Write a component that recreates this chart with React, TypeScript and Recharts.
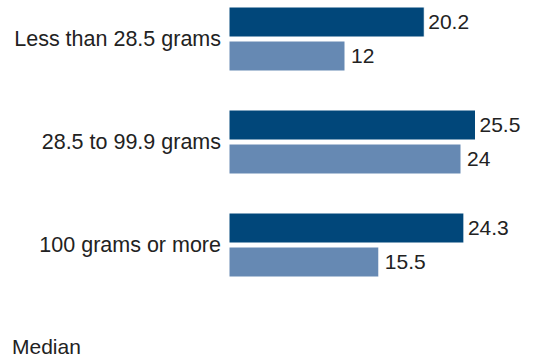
import { BarChart, Bar, XAxis, YAxis, LabelList } from 'recharts';

const CATEGORIES = ['Less than 28.5 grams', '28.5 to 99.9 grams', '100 grams or more'];
const SERIES_A = [20.2, 25.5, 24.3];
const SERIES_B = [12, 24, 15.5];

const DARK = '#01477a';
const LIGHT = '#6689b3';
const FONT = '"Liberation Sans", Arial, sans-serif';

const data = CATEGORIES.map((name, i) => ({ name, a: SERIES_A[i], b: SERIES_B[i] }));

export default function App() {
  return (
    <div style={{ position: 'absolute', left: 0, top: 0, width: 543, height: 360, background: '#fff', fontFamily: FONT }}>
      <BarChart
        width={543}
        height={360}
        data={data}
        layout="vertical"
        margin={{ top: -13, right: 24, bottom: 64, left: 0 }}
        barSize={30}
        barGap={4}
      >
        <XAxis type="number" domain={[0, 30]} hide />
        <YAxis
          type="category"
          dataKey="name"
          width={229}
          axisLine={false}
          tickLine={false}
          tick={{ fill: '#222', fontSize: 21.5, fontFamily: FONT }}
        />
        <Bar dataKey="a" fill={DARK} stroke="#ffffff" strokeWidth={1} isAnimationActive={false}>
          <LabelList dataKey="a" position="right" offset={4} fill="#222" fontSize={21} fontFamily={FONT} />
        </Bar>
        <Bar dataKey="b" fill={LIGHT} stroke="#ffffff" strokeWidth={1} isAnimationActive={false}>
          <LabelList dataKey="b" position="right" offset={6} fill="#222" fontSize={21} fontFamily={FONT} />
        </Bar>
      </BarChart>
      {/* legend-ish caption under the chart */}
      <div style={{ position: 'absolute', left: 12, top: 335, fontSize: 21, color: '#222', lineHeight: '24px' }}>
        Median
      </div>
    </div>
  );
}
